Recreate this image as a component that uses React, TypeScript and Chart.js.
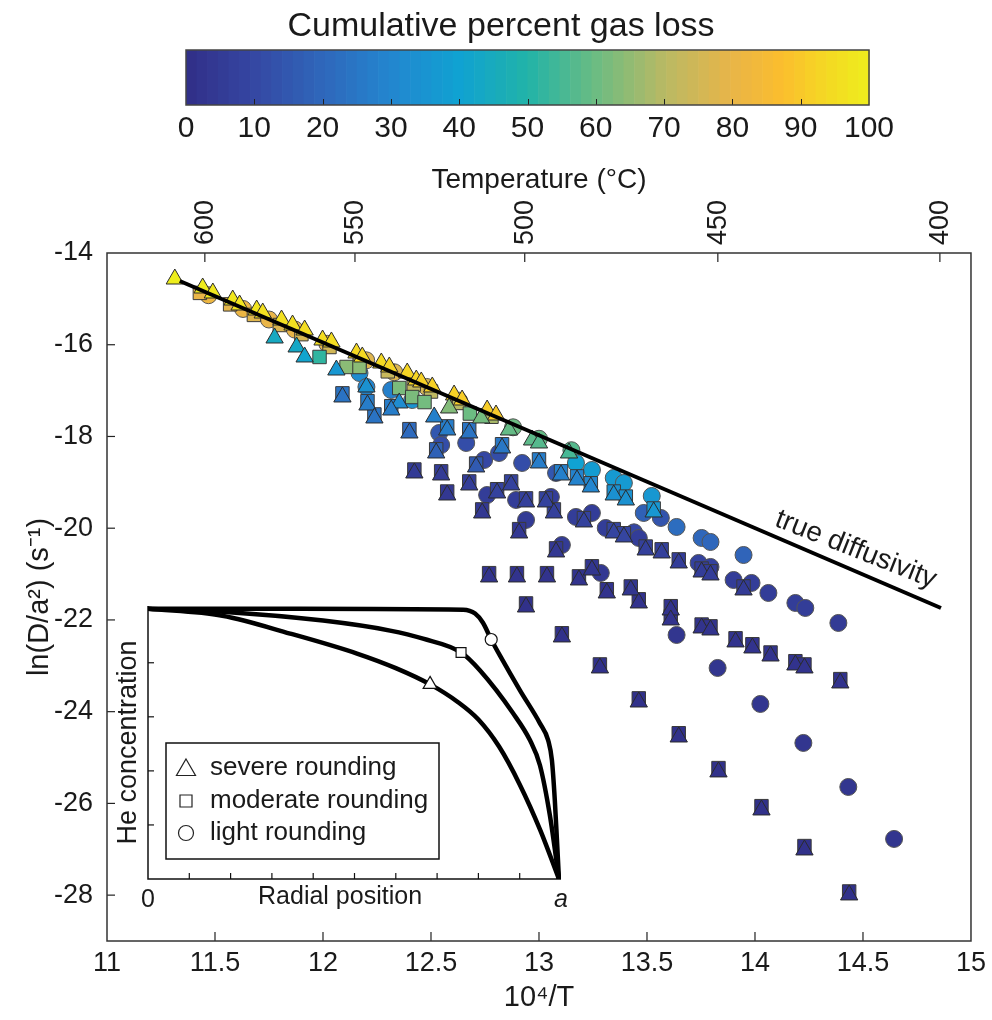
import React, { useEffect, useRef } from 'react';
import { Chart, registerables } from 'chart.js';

Chart.register(...registerables);

const FONT = "'Liberation Sans', Arial, Helvetica, sans-serif";
const TEXT = '#1a1a1a';

// ---- colormap (parula-like) ----
const cmapStops = [0, 10, 20, 30, 40, 50, 60, 70, 80, 87, 94, 100];
const cmapColors = ['#312e87', '#3547a3', '#2f67bb', '#2386cf', '#10a2d2', '#21b3a8', '#6cbc82', '#b9b964', '#e9b548', '#fbbd2e', '#f4d923', '#eeee1c'];

// ---- colour bar ----
const colorbarTitle = 'Cumulative percent gas loss';
const colorbarTicks = [0, 10, 20, 30, 40, 50, 60, 70, 80, 90, 100];

// ---- main axes ----
const xTicks = [11, 11.5, 12, 12.5, 13, 13.5, 14, 14.5, 15];
const yTicks = [-14, -16, -18, -20, -22, -24, -26, -28];
const tempTickX = [11.453, 12.148, 12.934, 13.828, 14.856];
const tempTickLabels = ['600', '550', '500', '450', '400'];

// ---- true diffusivity line ----
const trueLineX = [11.337, 14.861];
const trueLineY = [-14.61, -21.74];

// ---- severe rounding (triangles) ----
const severeX = [
  11.314, 11.443, 11.49, 11.582, 11.614, 11.693, 11.721, 11.808, 11.859, 11.915, 11.998, 12.039,
  12.155, 12.182, 12.27, 12.307, 12.39, 12.432, 12.455, 12.506, 12.607, 12.644, 12.76, 12.801,
  12.584, 12.732, 12.861, 12.968, 13.0, 13.139,
  11.776, 11.878, 11.915, 12.062, 12.201, 12.353,
  12.09, 12.206, 12.238, 12.316, 12.4, 12.524, 12.677, 12.515, 12.575, 12.709, 12.829, 13.0, 13.102, 13.176, 13.24, 13.346, 13.402, 13.531,
  12.423, 12.547, 12.575, 12.677, 12.737, 12.806, 12.871, 12.94, 13.032, 13.069, 12.908, 13.079, 13.208, 13.346, 13.393, 13.494, 13.568, 13.647, 13.753, 13.794, 13.947,
  12.769, 12.898, 13.037, 13.185, 13.245,
  12.94, 13.106, 13.282, 13.462, 13.647, 13.831, 14.03, 14.229, 14.436,
  13.314, 13.425, 13.462, 13.61, 13.61, 13.753, 13.794, 13.91, 13.988, 14.072, 14.187, 14.229, 14.395,
];
const severeY = [
  -14.567, -14.763, -14.872, -15.025, -15.134, -15.243, -15.308, -15.461, -15.57, -15.679, -15.897, -15.94,
  -16.18, -16.267, -16.398, -16.485, -16.616, -16.769, -16.812, -16.921, -17.096, -17.205, -17.423, -17.532,
  -17.379, -17.597, -17.859, -18.077, -18.142, -18.36,
  -15.853, -16.049, -16.267, -16.551, -16.921, -17.27,
  -17.139, -17.314, -17.597, -17.423, -17.924, -18.36, -17.924, -17.575, -17.859, -18.665, -18.251, -18.578, -18.84, -18.949, -19.101, -19.276, -19.385, -19.646,
  -18.796, -18.84, -19.276, -19.058, -19.668, -19.232, -19.058, -19.428, -19.428, -19.668, -20.104, -20.518, -19.864, -20.104, -20.191, -20.475, -20.54, -20.758, -20.955, -21.02, -21.347,
  -21.063, -21.063, -21.063, -21.129, -20.911,
  -21.718, -22.371, -23.047, -23.789, -24.552, -25.314, -26.143, -27.015, -27.996,
  -21.412, -21.347, -21.63, -21.783, -22.001, -22.175, -22.219, -22.48, -22.611, -22.786, -22.982, -23.047, -23.374,
];
const severePct = [
  100, 99, 98, 98, 97, 97, 96, 96, 96, 95, 95, 95,
  94, 94, 94, 93, 93, 93, 92, 92, 92, 91, 91, 90,
  63, 61, 59, 58, 57, 55,
  44, 43, 41, 36, 34, 32,
  24, 27, 24, 27, 21, 18, 24, 28, 27, 16, 25, 27, 28, 29, 30, 34, 34, 36,
  5, 5, 4, 6, 4, 8, 8, 7, 8, 7, 4, 4, 8, 9, 9, 7, 7, 6, 6, 6, 5,
  2, 2, 2, 2, 3,
  1, 1, 1, 1, 1, 1, 1, 1, 1,
  2, 3, 2, 2, 2, 2, 2, 2, 2, 2, 2, 2, 2,
];

// ---- moderate rounding (squares) ----
const moderateX = [
  11.43, 11.57, 11.68, 11.8, 11.9, 12.03, 12.17, 12.3, 12.42, 12.5, 12.63, 12.78,
  11.984, 12.109, 12.169, 12.353, 12.413, 12.47, 12.68,
  12.829, 13.0, 13.102, 13.176, 13.24, 13.346, 13.402, 13.531,
  12.09, 12.206, 12.238, 12.316, 12.4, 12.524, 12.677, 12.575, 12.709,
  12.423, 12.547, 12.575, 12.677, 12.737, 12.806, 12.871, 12.94, 13.032, 13.069, 12.908, 13.079, 13.208, 13.346, 13.393, 13.494, 13.568, 13.647, 13.753, 13.794, 13.947,
  12.769, 12.898, 13.037, 13.185, 13.245,
  12.94, 13.106, 13.282, 13.462, 13.647, 13.831, 14.03, 14.229, 14.436,
  13.314, 13.425, 13.462, 13.61, 13.61, 13.753, 13.794, 13.91, 13.988, 14.072, 14.187, 14.229, 14.395,
];
const moderateY = [
  -14.87, -15.12, -15.35, -15.57, -15.77, -16.05, -16.35, -16.58, -16.87, -17.02, -17.27, -17.57,
  -16.267, -16.485, -16.485, -16.943, -17.14, -17.25, -17.5,
  -18.17, -18.5, -18.76, -18.87, -19.02, -19.2, -19.31, -19.57,
  -17.06, -17.23, -17.52, -17.34, -17.84, -18.28, -17.84, -17.78, -18.59,
  -18.72, -18.76, -19.2, -18.98, -19.59, -19.15, -18.98, -19.35, -19.35, -19.59, -20.02, -20.44, -19.78, -20.02, -20.11, -20.4, -20.46, -20.68, -20.88, -20.94, -21.27,
  -20.98, -20.98, -20.98, -21.05, -20.83,
  -21.64, -22.29, -22.97, -23.71, -24.47, -25.23, -26.06, -26.93, -27.92,
  -21.33, -21.27, -21.55, -21.7, -21.92, -22.1, -22.14, -22.4, -22.53, -22.71, -22.9, -22.97, -23.29,
];
const moderatePct = [
  80, 79, 78, 77, 76, 75, 74, 73, 72, 71, 70, 68,
  52, 64, 64, 62, 62, 61, 60,
  25, 27, 28, 29, 30, 34, 34, 36,
  24, 27, 24, 27, 21, 18, 24, 27, 16,
  5, 5, 4, 6, 4, 8, 8, 7, 8, 7, 4, 4, 8, 9, 9, 7, 7, 6, 6, 6, 5,
  2, 2, 2, 2, 3,
  1, 1, 1, 1, 1, 1, 1, 1, 1,
  2, 3, 2, 2, 2, 2, 2, 2, 2, 2, 2, 2, 2,
];

// ---- light rounding (circles) ----
const lightX = [
  11.47, 11.63, 11.75, 11.87, 12.02, 12.2, 12.33, 12.48, 12.63,
  12.88, 13.0, 13.15,
  13.171, 13.245, 13.346, 13.393, 13.522, 12.413, 12.169, 12.201, 12.316,
  13.637, 13.753, 13.794, 13.947, 13.485, 13.564, 12.538, 12.547, 12.663, 12.746, 12.815, 12.922, 13.079, 13.44,
  12.76, 12.894, 13.055, 12.94, 13.171, 13.245, 13.309, 13.106, 13.462, 13.739, 13.794, 13.901, 13.984, 14.062, 14.187, 14.233, 14.386, 13.286,
  13.637, 13.827, 14.025, 14.224, 14.432, 14.644,
];
const lightY = [
  -14.92, -15.22, -15.45, -15.67, -15.98, -16.34, -16.6, -16.92, -17.22,
  -17.8, -18.05, -18.3,
  -18.578, -18.731, -18.905, -19.014, -19.298, -17.205, -16.616, -16.921, -16.987,
  -19.973, -20.213, -20.3, -20.584, -19.668, -19.777, -17.924, -18.186, -18.142, -18.513, -18.36, -18.578, -18.796, -20.09,
  -19.276, -19.385, -19.319, -19.821, -19.755, -19.668, -19.995, -20.366, -20.213, -20.758, -20.845, -21.129, -21.194, -21.412, -21.63, -21.739, -22.066, -20.976,
  -22.328, -23.047, -23.832, -24.682, -25.642, -26.775,
];
const lightPct = [
  82, 81, 80, 80, 79, 78, 77, 76, 75,
  60, 59, 57,
  40, 38, 37, 37, 36, 35, 32, 30, 28,
  22, 20, 20, 19, 18, 14, 15, 12, 12, 10, 12, 12, 15, 10,
  6, 6, 6, 5, 6, 6, 6, 5, 6, 8, 8, 6, 6, 6, 6, 6, 5, 4,
  3, 3, 3, 3, 3, 3,
];

// ---- inset: He concentration profiles ----
const insetXTicks = [0, 0.1, 0.2, 0.3, 0.4, 0.5, 0.6, 0.7, 0.8, 0.9, 1];
const insetYTicks = [0, 0.2, 0.4, 0.6, 0.8, 1];
const insetLightX = [0, 0.368, 0.763, 0.792, 0.811, 0.831, 0.852, 0.901, 0.949, 0.969, 0.978, 0.985, 0.99, 0.995];
const insetLightY = [1, 1, 0.996, 0.982, 0.948, 0.886, 0.827, 0.697, 0.576, 0.513, 0.439, 0.292, 0.15, 0];
const insetModerateX = [0, 0.18, 0.424, 0.586, 0.666, 0.758, 0.804, 0.884, 0.925, 0.949, 0.973, 0.995];
const insetModerateY = [1, 0.989, 0.956, 0.919, 0.889, 0.838, 0.771, 0.613, 0.513, 0.421, 0.236, 0];
const insetSevereX = [0, 0.18, 0.344, 0.506, 0.6, 0.683, 0.75, 0.8, 0.85, 0.9, 0.95, 0.995];
const insetSevereY = [1, 0.974, 0.908, 0.834, 0.78, 0.72, 0.655, 0.59, 0.49, 0.35, 0.18, 0];
const insetMarkerIndex = { light: 5, moderate: 5, severe: 5 };
const legendLabels = ['severe rounding', 'moderate rounding', 'light rounding'];

// ---------------------------------------------------------------
function hexRgb(h: string) {
  return [parseInt(h.slice(1, 3), 16), parseInt(h.slice(3, 5), 16), parseInt(h.slice(5, 7), 16)];
}
function parula(p: number) {
  const v = Math.max(0, Math.min(100, p));
  let i = 0;
  while (i < cmapStops.length - 2 && v > cmapStops[i + 1]) i++;
  const t = (v - cmapStops[i]) / (cmapStops[i + 1] - cmapStops[i]);
  const a = hexRgb(cmapColors[i]);
  const b = hexRgb(cmapColors[i + 1]);
  const c = a.map((av, k) => Math.round(av + (b[k] - av) * t));
  return `rgb(${c[0]},${c[1]},${c[2]})`;
}
function pts(xs: number[], ys: number[]) {
  return xs.map((x, i) => ({ x, y: ys[i] }));
}

const colorbarPlugin = {
  id: 'colorbarPlugin',
  beforeDatasetsDraw(chart: any) {
    const { ctx, chartArea: ca, scales } = chart;
    const xs = scales.x;
    const n = 64;
    ctx.save();
    for (let k = 0; k < n; k++) {
      const p0 = (k * 100) / n;
      const p1 = ((k + 1) * 100) / n;
      const x0 = xs.getPixelForValue(p0);
      const x1 = xs.getPixelForValue(p1);
      ctx.fillStyle = parula((p0 + p1) / 2);
      ctx.fillRect(x0, ca.top, x1 - x0 + 0.6, ca.bottom - ca.top);
    }
    ctx.strokeStyle = '#222';
    ctx.lineWidth = 1;
    colorbarTicks.forEach((t) => {
      if (t <= 0 || t >= 100) return;
      const px = Math.round(xs.getPixelForValue(t)) + 0.5;
      ctx.beginPath();
      ctx.moveTo(px, ca.bottom);
      ctx.lineTo(px, ca.bottom - 6);
      ctx.stroke();
    });
    ctx.strokeStyle = '#444';
    ctx.lineWidth = 1.5;
    ctx.strokeRect(ca.left, ca.top, ca.right - ca.left, ca.bottom - ca.top);
    // title
    ctx.font = `34px ${FONT}`;
    ctx.fillStyle = TEXT;
    ctx.textAlign = 'center';
    ctx.textBaseline = 'middle';
    ctx.fillText(colorbarTitle, chart.width / 2 + 5, 27);
    ctx.restore();
  },
};

const mainPlugin = {
  id: 'mainDecor',
  afterDatasetsDraw(chart: any) {
    const { ctx, chartArea: ca, scales } = chart;
    ctx.save();
    ctx.strokeStyle = '#222';
    ctx.lineWidth = 1.2;
    const line = (x0: number, y0: number, x1: number, y1: number) => {
      ctx.beginPath();
      ctx.moveTo(x0, y0);
      ctx.lineTo(x1, y1);
      ctx.stroke();
    };
    scales.x.ticks.forEach((t: any) => {
      const px = scales.x.getPixelForValue(t.value);
      if (px > ca.left + 1 && px < ca.right - 1) line(px, ca.bottom, px, ca.bottom - 9);
    });
    scales.x2.ticks.forEach((t: any) => {
      const px = scales.x2.getPixelForValue(t.value);
      line(px, ca.top, px, ca.top + 9);
    });
    scales.y.ticks.forEach((t: any) => {
      const py = scales.y.getPixelForValue(t.value);
      if (py > ca.top + 1 && py < ca.bottom - 1) line(ca.left, py, ca.left + 8, py);
    });
    ctx.strokeStyle = '#333';
    ctx.lineWidth = 1.5;
    ctx.strokeRect(ca.left, ca.top, ca.right - ca.left, ca.bottom - ca.top);

    // label along the true diffusivity line
    const ax = scales.x.getPixelForValue(trueLineX[0]);
    const ay = scales.y.getPixelForValue(trueLineY[0]);
    const bx = scales.x.getPixelForValue(trueLineX[1]);
    const by = scales.y.getPixelForValue(trueLineY[1]);
    const ang = Math.atan2(by - ay, bx - ax);
    const lx = 14.43;
    const f = (lx - trueLineX[0]) / (trueLineX[1] - trueLineX[0]);
    const ly = trueLineY[0] + f * (trueLineY[1] - trueLineY[0]);
    const px = scales.x.getPixelForValue(lx);
    const py = scales.y.getPixelForValue(ly);
    const off = 20;
    ctx.translate(px + Math.sin(ang) * off, py - Math.cos(ang) * off);
    ctx.rotate(ang - 0.03);
    ctx.font = `28px ${FONT}`;
    ctx.fillStyle = TEXT;
    ctx.textAlign = 'center';
    ctx.textBaseline = 'middle';
    ctx.fillText('true diffusivity', 0, 0);
    ctx.restore();
  },
};

function drawMarker(ctx: any, kind: string, x: number, y: number, r: number) {
  ctx.beginPath();
  if (kind === 'triangle') {
    ctx.moveTo(x, y - r);
    ctx.lineTo(x + r * 0.866, y + r * 0.5);
    ctx.lineTo(x - r * 0.866, y + r * 0.5);
    ctx.closePath();
  } else if (kind === 'rect') {
    ctx.rect(x - r, y - r, 2 * r, 2 * r);
  } else {
    ctx.arc(x, y, r, 0, Math.PI * 2);
  }
  ctx.fill();
  ctx.stroke();
}

const insetPlugin = {
  id: 'insetDecor',
  beforeDatasetsDraw(chart: any) {
    const { ctx, chartArea: ca, scales } = chart;
    ctx.save();
    ctx.strokeStyle = '#111';
    ctx.lineWidth = 1.5;
    ctx.beginPath();
    ctx.moveTo(ca.left, ca.top);
    ctx.lineTo(ca.left, ca.bottom);
    ctx.lineTo(ca.right, ca.bottom);
    ctx.stroke();
    ctx.lineWidth = 1.2;
    insetXTicks.forEach((v) => {
      if (v <= 0 || v >= 1) return;
      const px = scales.x.getPixelForValue(v);
      ctx.beginPath();
      ctx.moveTo(px, ca.bottom);
      ctx.lineTo(px, ca.bottom - 6);
      ctx.stroke();
    });
    insetYTicks.forEach((v) => {
      if (v <= 0) return;
      const py = scales.y.getPixelForValue(v);
      ctx.beginPath();
      ctx.moveTo(ca.left, py);
      ctx.lineTo(ca.left + 6, py);
      ctx.stroke();
    });
    ctx.font = `25px ${FONT}`;
    ctx.fillStyle = TEXT;
    ctx.textAlign = 'center';
    ctx.textBaseline = 'top';
    ctx.fillText('Radial position', scales.x.getPixelForValue(0.465), ca.bottom + 6);
    ctx.restore();
  },
  afterDraw(chart: any) {
    const { ctx, chartArea: ca } = chart;
    ctx.save();
    const bx = ca.left + 18;
    const by = ca.top + 137;
    const bw = 273;
    const bh = 116;
    ctx.fillStyle = '#fff';
    ctx.fillRect(bx, by, bw, bh);
    ctx.strokeStyle = '#111';
    ctx.lineWidth = 1.5;
    ctx.strokeRect(bx, by, bw, bh);
    const kinds = ['triangle', 'rect', 'circle'];
    const sizes = [11, 6, 7.5];
    const rowY = [25, 58, 90];
    legendLabels.forEach((lab, i) => {
      ctx.fillStyle = '#fff';
      ctx.strokeStyle = '#222';
      ctx.lineWidth = 1.2;
      drawMarker(ctx, kinds[i], bx + 20, by + rowY[i] + (i === 0 ? 2 : 0), sizes[i]);
      ctx.fillStyle = TEXT;
      ctx.font = `26px ${FONT}`;
      ctx.textAlign = 'left';
      ctx.textBaseline = 'middle';
      ctx.fillText(lab, bx + 44, by + rowY[i]);
    });
    ctx.restore();
  },
};

export default function App() {
  const cbRef = useRef<HTMLCanvasElement>(null);
  const mainRef = useRef<HTMLCanvasElement>(null);
  const insetRef = useRef<HTMLCanvasElement>(null);

  useEffect(() => {
    const tickFont = { family: FONT, size: 27 };
    const noGrid = { display: false, drawTicks: false };

    const cb = new Chart(cbRef.current as HTMLCanvasElement, {
      type: 'scatter',
      data: { datasets: [{ data: [] }] },
      options: {
        responsive: false,
        animation: false,
        layout: { padding: { left: 186, right: 123, top: 50, bottom: 0 } },
        plugins: {
          legend: { display: false },
          tooltip: { enabled: false },
          title: { display: false },
        },
        scales: {
          x: {
            type: 'linear',
            min: 0,
            max: 100,
            afterBuildTicks: (s: any) => {
              s.ticks = colorbarTicks.map((v) => ({ value: v }));
            },
            ticks: { font: { family: FONT, size: 30 }, color: TEXT, padding: 6, maxRotation: 0, autoSkip: false },
            grid: noGrid,
            border: { display: false },
            afterFit: (s: any) => {
              s.height = 55;
            },
          },
          y: { display: false, min: 0, max: 1 },
        },
      } as any,
      plugins: [colorbarPlugin],
    });

    const main = new Chart(mainRef.current as HTMLCanvasElement, {
      type: 'scatter',
      data: {
        datasets: [
          {
            type: 'line',
            label: 'true diffusivity',
            data: pts(trueLineX, trueLineY),
            borderColor: '#000',
            borderWidth: 4,
            pointRadius: 0,
            order: 0,
          },
          {
            label: 'severe rounding',
            data: pts(severeX, severeY),
            pointStyle: 'triangle',
            pointRadius: 10,
            pointBackgroundColor: severePct.map(parula),
            pointBorderColor: '#2b2b2b',
            pointBorderWidth: 1,
            order: 1,
          },
          {
            label: 'moderate rounding',
            data: pts(moderateX, moderateY),
            pointStyle: 'rect',
            pointRadius: 9.5,
            pointBackgroundColor: moderatePct.map(parula),
            pointBorderColor: '#3a3a3a',
            pointBorderWidth: 1,
            order: 2,
          },
          {
            label: 'light rounding',
            data: pts(lightX, lightY),
            pointStyle: 'circle',
            pointRadius: 8.5,
            pointBackgroundColor: lightPct.map(parula),
            pointBorderColor: '#555',
            pointBorderWidth: 1,
            order: 3,
          },
        ],
      },
      options: {
        responsive: false,
        animation: false,
        layout: { padding: { top: 150, right: 19, left: 0, bottom: 0 } },
        plugins: { legend: { display: false }, tooltip: { enabled: false } },
        scales: {
          x: {
            type: 'linear',
            position: 'bottom',
            min: 11,
            max: 15,
            afterBuildTicks: (s: any) => {
              s.ticks = xTicks.map((v) => ({ value: v }));
            },
            ticks: { font: tickFont, color: TEXT, padding: 6, maxRotation: 0, autoSkip: false, callback: (v: any) => String(v) },
            grid: noGrid,
            border: { display: false },
            title: { display: true, text: '10⁴/T', font: { family: FONT, size: 29 }, color: TEXT, padding: { top: 0, bottom: 5 } },
            afterFit: (s: any) => {
              s.height = 79;
            },
          },
          x2: {
            type: 'linear',
            position: 'top',
            min: 11,
            max: 15,
            afterBuildTicks: (s: any) => {
              s.ticks = tempTickX.map((v) => ({ value: v }));
            },
            ticks: {
              font: tickFont,
              color: TEXT,
              padding: 8,
              labelOffset: 33,
              minRotation: 90,
              maxRotation: 90,
              autoSkip: false,
              callback: (_v: any, i: number) => tempTickLabels[i],
            },
            grid: noGrid,
            border: { display: false },
            title: { display: true, text: 'Temperature (°C)', font: { family: FONT, size: 28 }, color: TEXT, padding: { top: 13, bottom: 0 } },
            afterFit: (s: any) => {
              s.height = 103;
            },
          },
          y: {
            type: 'linear',
            min: -29,
            max: -14,
            afterBuildTicks: (s: any) => {
              s.ticks = yTicks.map((v) => ({ value: v }));
            },
            ticks: { font: tickFont, color: TEXT, padding: 14, autoSkip: false },
            grid: noGrid,
            border: { display: false },
            title: { display: true, text: 'ln(D/a²) (s⁻¹)', font: { family: FONT, size: 29 }, color: TEXT, padding: { top: 23, bottom: 0 } },
            afterFit: (s: any) => {
              s.width = 107;
            },
          },
        },
      } as any,
      plugins: [mainPlugin],
    });

    const curve = (xs: number[], ys: number[], mk: number, style: string, r: number) => ({
      data: pts(xs, ys),
      borderColor: '#000',
      borderWidth: 4.5,
      pointStyle: style,
      pointRadius: (c: any) => (c.dataIndex === mk ? r : 0),
      pointBackgroundColor: '#fff',
      pointBorderColor: '#111',
      pointBorderWidth: 1.2,
      cubicInterpolationMode: 'monotone',
      fill: false,
    });

    const inset = new Chart(insetRef.current as HTMLCanvasElement, {
      type: 'line',
      data: {
        datasets: [
          curve(insetLightX, insetLightY, insetMarkerIndex.light, 'circle', 6),
          curve(insetModerateX, insetModerateY, insetMarkerIndex.moderate, 'rect', 7),
          curve(insetSevereX, insetSevereY, insetMarkerIndex.severe, 'triangle', 8),
        ] as any,
      },
      options: {
        responsive: false,
        animation: false,
        layout: { padding: { top: 16, right: 19, left: 0, bottom: 0 } },
        plugins: { legend: { display: false }, tooltip: { enabled: false } },
        scales: {
          x: {
            type: 'linear',
            min: 0,
            max: 1,
            afterBuildTicks: (s: any) => {
              s.ticks = insetXTicks.map((v) => ({ value: v }));
            },
            ticks: {
              callback: (v: any) => (v === 0 ? '0' : v === 1 ? 'a' : ''),
              font: (c: any) => ({ family: FONT, size: 25, style: c.tick && c.tick.value === 1 ? 'italic' : 'normal' }),
              color: TEXT,
              padding: 6,
              maxRotation: 0,
              autoSkip: false,
            },
            grid: noGrid,
            border: { display: false },
            afterFit: (s: any) => {
              s.height = 41;
            },
          },
          y: {
            type: 'linear',
            min: 0,
            max: 1.01,
            afterBuildTicks: (s: any) => {
              s.ticks = insetYTicks.map((v) => ({ value: v }));
            },
            ticks: { callback: () => '', autoSkip: false },
            grid: noGrid,
            border: { display: false },
            title: { display: true, text: 'He concentration', font: { family: FONT, size: 27 }, color: TEXT, padding: { top: 12, bottom: 0 } },
            afterFit: (s: any) => {
              s.width = 48;
            },
          },
        },
      } as any,
      plugins: [insetPlugin],
    });

    return () => {
      cb.destroy();
      main.destroy();
      inset.destroy();
    };
  }, []);

  return (
    <div style={{ position: 'absolute', left: 0, top: 0, width: 992, height: 1020, background: '#fff', overflow: 'hidden' }}>
      <canvas ref={mainRef} width={992} height={1020} style={{ position: 'absolute', left: 0, top: 0 }} />
      <canvas ref={cbRef} width={992} height={160} style={{ position: 'absolute', left: 0, top: 0, pointerEvents: 'none' }} />
      <canvas ref={insetRef} width={480} height={330} style={{ position: 'absolute', left: 100, top: 590, pointerEvents: 'none' }} />
    </div>
  );
}
